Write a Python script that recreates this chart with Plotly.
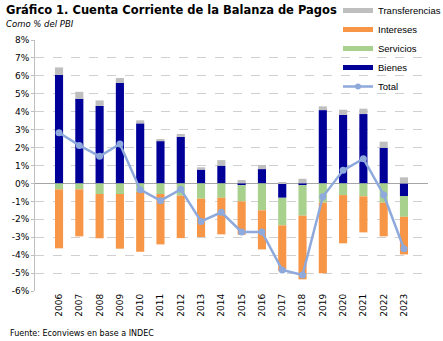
import plotly.graph_objects as go

years = [str(y) for y in range(2006, 2024)]
bienes = [6.05, 4.72, 4.32, 5.62, 3.35, 2.36, 2.60, 0.77, 0.99, -0.10, 0.80, -0.80, -0.10, 4.09, 3.83, 3.87, 1.99, -0.70]
servicios = [-0.33, -0.33, -0.59, -0.59, -0.46, -0.59, -0.68, -0.85, -0.80, -0.90, -1.50, -1.54, -1.70, -1.07, -0.65, -0.72, -1.07, -1.16]
intereses = [-3.29, -2.62, -2.47, -3.05, -3.35, -2.81, -2.37, -2.14, -2.04, -1.86, -2.18, -2.55, -3.55, -3.94, -2.69, -2.01, -1.88, -2.10]
transferencias = [0.42, 0.39, 0.31, 0.26, 0.17, 0.12, 0.16, 0.13, 0.31, 0.19, 0.23, 0.05, 0.26, 0.21, 0.28, 0.30, 0.34, 0.34]
total = [2.83, 2.12, 1.51, 2.20, -0.35, -0.96, -0.33, -2.12, -1.61, -2.71, -2.71, -4.83, -5.11, -0.74, 0.73, 1.38, -0.63, -3.64]
ytick_vals = list(range(-6, 9))
ytick_text = [f"{v}%" for v in ytick_vals]

C_BIEN = "#000099"
C_SERV = "#A9D18E"
C_INT = "#F79646"
C_TRF = "#BFBFBF"
C_TOT = "#8EA9DB"

W, H = 443, 341
ML, MR, MT, MB = 35, 15, 40, 50
PW, PH = W - ML - MR, H - MT - MB


def px_x(p):
    return (p - ML) / PW


def px_y(p):
    return (H - MB - p) / PH


fig = go.Figure()
for name, vals, col in [("Bienes", bienes, C_BIEN), ("Servicios", servicios, C_SERV),
                        ("Intereses", intereses, C_INT), ("Transferencias", transferencias, C_TRF)]:
    fig.add_trace(go.Bar(x=years, y=vals, name=name, marker=dict(color=col, line=dict(width=0)),
                         width=0.4, showlegend=False))
fig.add_trace(go.Scatter(x=years, y=total, name="Total", mode="lines+markers",
                         line=dict(color=C_TOT, width=2.5), marker=dict(size=7, color=C_TOT),
                         showlegend=False))

# legend entries
for rank, (name, col) in enumerate([("Transferencias", C_TRF), ("Intereses", C_INT),
                                    ("Servicios", C_SERV), ("Bienes", C_BIEN)]):
    fig.add_trace(go.Scatter(x=[None], y=[None], mode="lines", name=name,
                             line=dict(color=col, width=5), legendrank=rank + 1))
fig.add_trace(go.Scatter(x=[None], y=[None], mode="lines+markers", name="Total",
                         line=dict(color=C_TOT, width=2.5), marker=dict(size=6, color=C_TOT),
                         legendrank=5))

fig.update_layout(
    width=W, height=H,
    margin=dict(l=ML, r=MR, t=MT, b=MB, autoexpand=False),
    barmode="relative",
    paper_bgcolor="white", plot_bgcolor="white",
    font=dict(family="DejaVu Sans", size=9, color="#000000"),
    showlegend=True,
    legend=dict(x=px_x(338), y=px_y(-4), xanchor="left", yanchor="top", bgcolor="rgba(0,0,0,0)",
                font=dict(size=9.5, family="Liberation Sans"), tracegroupgap=0, itemwidth=30),
    annotations=[
        dict(text="<b>Gráfico 1. Cuenta Corriente de la Balanza de Pagos</b>", x=px_x(4), y=px_y(10),
             xref="paper", yref="paper", showarrow=False, xanchor="left", yanchor="middle",
             font=dict(size=11.5, family="DejaVu Sans")),
        dict(text="<i>Como % del PBI</i>", x=px_x(4), y=px_y(24), xref="paper", yref="paper",
             showarrow=False, xanchor="left", yanchor="middle",
             font=dict(size=8.5, family="DejaVu Sans")),
        dict(text="Fuente: Econviews en base a INDEC", x=px_x(8), y=px_y(333), xref="paper", yref="paper",
             showarrow=False, xanchor="left", yanchor="middle",
             font=dict(size=8, family="DejaVu Sans")),
    ],
    xaxis2=dict(overlaying="x", anchor="free", position=6 / 14, range=[-0.5, 17.5],
                tickvals=[i - 0.5 for i in range(19)], ticks="outside", ticklen=3,
                tickcolor="#A6A6A6", showticklabels=False, showgrid=False, showline=False,
                zeroline=False, automargin=False),
)

fig.update_yaxes(range=[-6, 8], tickvals=ytick_vals, ticktext=ytick_text,
                 showgrid=True, gridcolor="#D0D0D0", griddash="dash", gridwidth=1,
                 zeroline=True, zerolinecolor="#A6A6A6", zerolinewidth=1,
                 showline=True, linecolor="#BFBFBF", linewidth=1,
                 ticks="outside", ticklen=3, tickcolor="#BFBFBF", automargin=False,
                 tickfont=dict(size=9, family="DejaVu Sans"))
fig.update_layout(xaxis=dict(type="category", showgrid=False, showline=False, tickangle=-90,
                             tickfont=dict(size=9, family="DejaVu Sans"), ticks="", automargin=False))

fig.write_html("out.html")
